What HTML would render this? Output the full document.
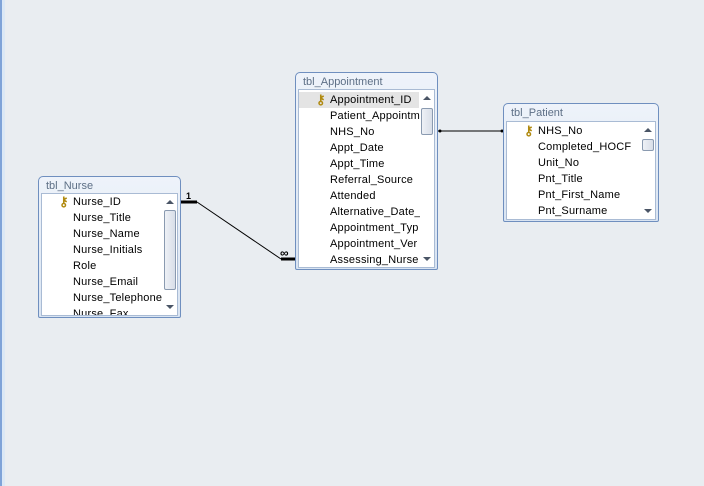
<!DOCTYPE html>
<html><head><style>
body{margin:0;width:704px;height:486px;background:#e9edf1;position:relative;overflow:hidden;font-family:"Liberation Sans",sans-serif;}
.edge{position:absolute;left:0;top:0;width:2px;height:486px;background:#7fa3d8;}
.edge2{position:absolute;left:2px;top:0;width:3px;height:486px;background:#dbe8f6;}
.t{position:absolute;border:1px solid #6f8fbf;border-radius:5px 5px 2px 2px;background:linear-gradient(#eef3fa,#d9e4f2);box-sizing:border-box;}
.ti{position:absolute;left:7px;top:3px;font-size:11px;color:#5d6f86;}
.in{position:absolute;background:#fff;border:1px solid #a9bbd4;box-sizing:border-box;overflow:hidden;}
.r{position:absolute;left:31px;height:16px;line-height:16px;font-size:11px;color:#000;white-space:nowrap;letter-spacing:0.2px;}
.sel{position:absolute;left:0;height:16px;background:#e4e4e4;}
.key{position:absolute;left:17px;font-size:13px;color:#b08a10;line-height:16px;height:16px;font-weight:bold;}
.sb{position:absolute;top:0;bottom:0;width:15px;background:#fff;}
.up,.dn{position:absolute;left:3px;width:0;height:0;border-left:4px solid transparent;border-right:4px solid transparent;}
.up{top:6px;border-bottom:4px solid #4a5566;}
.dn{bottom:6px;border-top:4px solid #4a5566;}
.th{position:absolute;left:1px;width:12px;border:1px solid #8a9ab0;border-radius:2px;background:linear-gradient(90deg,#eef1f6,#d8dee8);box-sizing:border-box;}
</style></head><body>
<div class="edge"></div><div class="edge2"></div>

<svg width="704" height="486" style="position:absolute;left:0;top:0">
<line x1="181" y1="202" x2="197" y2="202" stroke="#000" stroke-width="3"/>
<line x1="197" y1="202" x2="281" y2="259" stroke="#000" stroke-width="1"/>
<line x1="281" y1="259" x2="295" y2="259" stroke="#000" stroke-width="3"/>
<text x="186" y="199" font-size="9" font-weight="bold" font-family="Liberation Sans">1</text>
<text x="280" y="257" font-size="12" font-weight="bold" font-family="Liberation Sans">∞</text>
<line x1="438" y1="131" x2="503" y2="131" stroke="#000" stroke-width="1"/>
<circle cx="440" cy="131" r="1.5"/><circle cx="502" cy="131" r="1.5"/>
</svg>

<!-- Nurse -->
<div class="t" style="left:38px;top:176px;width:143px;height:142px">
<div class="ti">tbl_Nurse</div>
<div class="in" style="left:2px;top:16px;width:137px;height:123px">
<div class="key" style="top:0">&#x26B7;</div>
<div class="r" style="top:0">Nurse_ID</div>
<div class="r" style="top:16px">Nurse_Title</div>
<div class="r" style="top:32px">Nurse_Name</div>
<div class="r" style="top:48px">Nurse_Initials</div>
<div class="r" style="top:64px">Role</div>
<div class="r" style="top:80px">Nurse_Email</div>
<div class="r" style="top:96px">Nurse_Telephone</div>
<div class="r" style="top:112px">Nurse_Fax</div>
<div class="sb" style="left:121px"><div class="up"></div><div class="th" style="top:16px;height:80px"></div><div class="dn"></div></div>
</div></div>

<!-- Appointment -->
<div class="t" style="left:295px;top:72px;width:143px;height:198px">
<div class="ti">tbl_Appointment</div>
<div class="in" style="left:2px;top:16px;width:137px;height:179px">
<div class="sel" style="top:2px;width:120px"></div>
<div class="key" style="top:2px">&#x26B7;</div>
<div class="r" style="top:2px">Appointment_ID</div>
<div class="r" style="top:18px">Patient_Appointm</div>
<div class="r" style="top:34px">NHS_No</div>
<div class="r" style="top:50px">Appt_Date</div>
<div class="r" style="top:66px">Appt_Time</div>
<div class="r" style="top:82px">Referral_Source</div>
<div class="r" style="top:98px">Attended</div>
<div class="r" style="top:114px">Alternative_Date_</div>
<div class="r" style="top:130px">Appointment_Typ</div>
<div class="r" style="top:146px">Appointment_Ver</div>
<div class="r" style="top:162px">Assessing_Nurse</div>
<div class="sb" style="left:121px"><div class="up"></div><div class="th" style="top:18px;height:27px"></div><div class="dn"></div></div>
</div></div>

<!-- Patient -->
<div class="t" style="left:503px;top:103px;width:156px;height:119px">
<div class="ti">tbl_Patient</div>
<div class="in" style="left:2px;top:17px;width:150px;height:99px">
<div class="key" style="top:1px">&#x26B7;</div>
<div class="r" style="top:1px">NHS_No</div>
<div class="r" style="top:17px">Completed_HOCF</div>
<div class="r" style="top:33px">Unit_No</div>
<div class="r" style="top:49px">Pnt_Title</div>
<div class="r" style="top:65px">Pnt_First_Name</div>
<div class="r" style="top:81px">Pnt_Surname</div>
<div class="sb" style="left:134px"><div class="up"></div><div class="th" style="top:17px;height:12px"></div><div class="dn"></div></div>
</div></div>
</body></html>
